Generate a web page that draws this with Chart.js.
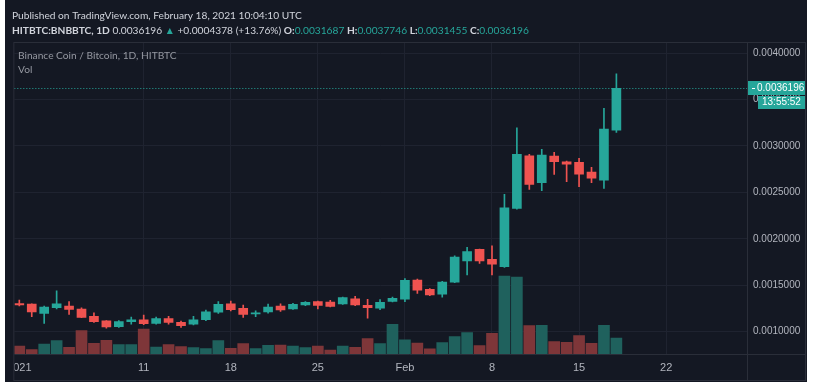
<!DOCTYPE html>
<html>
<head>
<meta charset="utf-8">
<script src="https://cdn.jsdelivr.net/npm/chart.js@4.4.0/dist/chart.umd.min.js"></script>
<style>
  html, body { margin: 0; padding: 0; background: #ffffff; }
</style>
</head>
<body>
<canvas id="myChart" width="814" height="389"></canvas>
<script>
//data: HITBTC BNB/BTC daily, Jan 1 - Feb 18 2021
const dates = [
  "2021-01-01", "2021-01-02", "2021-01-03", "2021-01-04", "2021-01-05", "2021-01-06", "2021-01-07",
  "2021-01-08", "2021-01-09", "2021-01-10", "2021-01-11", "2021-01-12", "2021-01-13", "2021-01-14",
  "2021-01-15", "2021-01-16", "2021-01-17", "2021-01-18", "2021-01-19", "2021-01-20", "2021-01-21",
  "2021-01-22", "2021-01-23", "2021-01-24", "2021-01-25", "2021-01-26", "2021-01-27", "2021-01-28",
  "2021-01-29", "2021-01-30", "2021-01-31", "2021-02-01", "2021-02-02", "2021-02-03", "2021-02-04",
  "2021-02-05", "2021-02-06", "2021-02-07", "2021-02-08", "2021-02-09", "2021-02-10", "2021-02-11",
  "2021-02-12", "2021-02-13", "2021-02-14", "2021-02-15", "2021-02-16", "2021-02-17", "2021-02-18"
];
const opens = [
  0.0013030, 0.0012980, 0.0011980, 0.0012590, 0.0012770, 0.0012440, 0.0011660,
  0.0011180, 0.0010540, 0.0011080, 0.0011290, 0.0010900, 0.0011400, 0.0011010,
  0.0010800, 0.0011290, 0.0012090, 0.0013010, 0.0012520, 0.0011910, 0.0012120,
  0.0012770, 0.0012440, 0.0012870, 0.0013230, 0.0013190, 0.0012980, 0.0013550,
  0.0012830, 0.0012520, 0.0013270, 0.0013490, 0.0015560, 0.0014560, 0.0014050,
  0.0015340, 0.0017620, 0.0018870, 0.0017790, 0.0017000, 0.0023280, 0.0028940,
  0.0026030, 0.0028900, 0.0028290, 0.0028230, 0.0027180, 0.0026320, 0.0031687
];
const highs = [
  0.0013410, 0.0013000, 0.0012770, 0.0014410, 0.0013230, 0.0012580, 0.0012040,
  0.0011200, 0.0011200, 0.0011580, 0.0011800, 0.0011580, 0.0011660, 0.0011150,
  0.0011660, 0.0012330, 0.0013230, 0.0013300, 0.0012870, 0.0012260, 0.0012980,
  0.0013010, 0.0013050, 0.0013230, 0.0013300, 0.0013380, 0.0013730, 0.0013810,
  0.0013480, 0.0013450, 0.0013730, 0.0015710, 0.0015670, 0.0014650, 0.0015410,
  0.0018170, 0.0019080, 0.0018900, 0.0019250, 0.0024780, 0.0031950, 0.0029090,
  0.0029630, 0.0029300, 0.0028370, 0.0028660, 0.0027690, 0.0034040, 0.0037746
];
const lows = [
  0.0012770, 0.0011620, 0.0010900, 0.0012440, 0.0011870, 0.0011500, 0.0011000,
  0.0010370, 0.0010450, 0.0010800, 0.0010770, 0.0010800, 0.0010800, 0.0010470,
  0.0010720, 0.0011200, 0.0011980, 0.0012230, 0.0011550, 0.0011620, 0.0012000,
  0.0012190, 0.0012390, 0.0012790, 0.0012440, 0.0012660, 0.0012950, 0.0012790,
  0.0011470, 0.0012370, 0.0013200, 0.0013230, 0.0014130, 0.0013870, 0.0013730,
  0.0015270, 0.0016100, 0.0017360, 0.0016100, 0.0016930, 0.0023200, 0.0025320,
  0.0025170, 0.0026930, 0.0026140, 0.0025600, 0.0026030, 0.0025430, 0.0031455
];
const closes = [
  0.0012870, 0.0012120, 0.0012660, 0.0013010, 0.0012410, 0.0011550, 0.0011080,
  0.0010510, 0.0011080, 0.0011290, 0.0010860, 0.0011400, 0.0011010, 0.0010650,
  0.0011290, 0.0012150, 0.0012950, 0.0012370, 0.0011870, 0.0012040, 0.0012660,
  0.0012340, 0.0012950, 0.0013160, 0.0012840, 0.0012730, 0.0013660, 0.0012870,
  0.0012590, 0.0013160, 0.0013590, 0.0015530, 0.0014480, 0.0013950, 0.0015340,
  0.0018030, 0.0018620, 0.0017610, 0.0017280, 0.0023340, 0.0029090, 0.0025860,
  0.0029010, 0.0028290, 0.0028040, 0.0026970, 0.0026540, 0.0031818, 0.0036196
];
const volumes = [
  8000, 4300, 10000, 13300, 6700, 23300, 10700,
  13700, 9300, 9300, 25000, 7000, 9300, 7300,
  6300, 5500, 13300, 5700, 10300, 5300, 8700,
  9000, 8000, 6300, 8000, 4000, 8000, 6700,
  15300, 10300, 29700, 14200, 10800, 5200, 11500,
  17300, 21300, 8500, 20700, 78000, 77000, 28300,
  28700, 12300, 11700, 18300, 10700, 28700, 16000
];
const xTickDays = [0, 10, 17, 24, 31, 38, 45, 52];
const xTickLabels = ["2021", "11", "18", "25", "Feb", "8", "15", "22"];
const yTickValues = [0.001, 0.0015, 0.002, 0.0025, 0.003, 0.0035, 0.004];
const lastTime = "13:55:52";

//colors
const upColor = "#26a69a";
const downColor = "#ef5350";
const upVolColor = "#1f615d";
const downVolColor = "#7e3639";
const bgColor = "#141823";
const gridColor = "#1f2330";
const lineColor = "#2a2e39";
const textColor = "#b2b5be";

const isUp = closes.map((c, i) => c >= opens[i]);
const wickData = dates.map((d, i) => ({ x: i, y: [lows[i], highs[i]] }));
const bodyData = dates.map((d, i) => ({ x: i, y: [opens[i], closes[i]] }));
const volData = dates.map((d, i) => ({ x: i, y: volumes[i] }));
const candleColors = isUp.map((u) => (u ? upColor : downColor));
const volColors = isUp.map((u) => (u ? upVolColor : downVolColor));

const FONT = '"Liberation Sans", Arial, sans-serif';
const HEAD_FONT = 'Lato, "Liberation Sans", sans-serif';

function drawRuns(ctx, runs, x, y) {
  runs.forEach((r) => {
    ctx.font = (r.bold ? "bold " : "") + "10.2px " + HEAD_FONT;
    ctx.fillStyle = r.color;
    ctx.fillText(r.text, x, y);
    x += ctx.measureText(r.text).width;
  });
}

const decoPlugin = {
  id: "deco",
  beforeDraw(chart) {
    const ctx = chart.ctx;
    ctx.save();
    ctx.fillStyle = "#ffffff";
    ctx.fillRect(0, 0, 814, 389);
    ctx.fillStyle = bgColor;
    ctx.fillRect(5, 0, 802, 382);
    ctx.restore();
  },
  beforeDatasetsDraw(chart) {
    const ctx = chart.ctx;
    const y = Math.round(chart.scales.y.getPixelForValue(closes[closes.length - 1])) + 0.5;
    ctx.save();
    ctx.strokeStyle = upColor;
    ctx.lineWidth = 1;
    ctx.setLineDash([1, 2]);
    ctx.beginPath();
    ctx.moveTo(chart.chartArea.left, y);
    ctx.lineTo(chart.chartArea.right, y);
    ctx.stroke();
    ctx.restore();
  },
  afterDraw(chart) {
    const ctx = chart.ctx;
    const area = chart.chartArea;
    ctx.save();

    //cover the cut part of the first date label, like the pane edge does
    ctx.fillStyle = "#ffffff";
    ctx.fillRect(0, area.bottom + 1, 5, 30);
    ctx.fillStyle = bgColor;
    ctx.fillRect(5, area.bottom + 1, area.left - 5, 25);

    //pane frame and separators
    ctx.strokeStyle = lineColor;
    ctx.lineWidth = 1;
    ctx.strokeRect(area.left - 0.5, area.top - 0.5, 805 - area.left + 1, 380 - area.top + 1);
    ctx.beginPath();
    ctx.moveTo(area.right + 0.5, area.top);
    ctx.lineTo(area.right + 0.5, 380);
    ctx.moveTo(area.left, area.bottom + 0.5);
    ctx.lineTo(805, area.bottom + 0.5);
    ctx.stroke();

    //header
    ctx.textBaseline = "alphabetic";
    ctx.textAlign = "left";
    drawRuns(ctx, [{ text: "Published on TradingView.com, February 18, 2021 10:04:10 UTC", color: "#d1d4dc" }], 12, 19);
    drawRuns(ctx, [
      { text: "HITBTC:BNBBTC, 1D", color: "#d1d4dc", bold: true },
      { text: " 0.0036196 ", color: "#d1d4dc" },
      { text: "\u25B2", color: upColor },
      { text: " +0.0004378 (+13.76%) ", color: "#d1d4dc" },
      { text: "O:", color: "#d1d4dc", bold: true },
      { text: "0.0031687 ", color: upColor },
      { text: "H:", color: "#d1d4dc", bold: true },
      { text: "0.0037746 ", color: upColor },
      { text: "L:", color: "#d1d4dc", bold: true },
      { text: "0.0031455 ", color: upColor },
      { text: "C:", color: "#d1d4dc", bold: true },
      { text: "0.0036196", color: upColor },
    ], 12, 34);

    //legend in pane
    ctx.font = "10.2px " + HEAD_FONT;
    ctx.fillStyle = "#9598a1";
    ctx.fillText("Binance Coin / Bitcoin, 1D, HITBTC", 18, 59);
    ctx.fillText("Vol", 18, 73);

    //last price and countdown labels
    const yLast = Math.round(chart.scales.y.getPixelForValue(closes[closes.length - 1]));
    ctx.fillStyle = upColor;
    ctx.fillRect(area.right + 1, yLast - 7, 805 - area.right - 1, 14);
    ctx.fillRect(area.right + 11, yLast + 8, 805 - area.right - 11, 13);
    ctx.fillStyle = "#ffffff";
    ctx.fillRect(area.right + 5, yLast, 3, 1);
    ctx.font = "10px " + FONT;
    ctx.textBaseline = "middle";
    ctx.fillText(closes[closes.length - 1].toFixed(7), area.right + 10, yLast + 0.5);
    ctx.fillText(lastTime, area.right + 15, yLast + 14.5);
    ctx.restore();
  },
};

const config = {
  data: {
    datasets: [
      {
        type: "bar",
        label: "Body",
        data: bodyData,
        backgroundColor: candleColors,
        barThickness: 9,
        minBarLength: 1,
        grouped: false,
        order: 0,
      },
      {
        type: "bar",
        label: "Wick",
        data: wickData,
        backgroundColor: candleColors,
        barThickness: 1,
        grouped: false,
        order: 1,
      },
      {
        type: "bar",
        label: "Vol",
        data: volData,
        yAxisID: "vol",
        backgroundColor: volColors,
        barThickness: 11,
        grouped: false,
        order: 2,
      },
    ],
  },
  options: {
    responsive: false,
    animation: false,
    events: [],
    layout: {
      padding: { left: 11, top: 43, right: 9, bottom: 9 },
    },
    plugins: {
      legend: { display: false },
      tooltip: { enabled: false },
    },
    scales: {
      x: {
        type: "linear",
        min: -0.4,
        max: 58.5,
        offset: false,
        afterBuildTicks: (axis) => {
          axis.ticks = xTickDays.map((v) => ({ value: v }));
        },
        afterFit: (axis) => {
          axis.height = 26;
        },
        grid: {
          offset: false,
          drawTicks: false,
          color: (c) => (c.index === 0 ? "rgba(0,0,0,0)" : gridColor),
        },
        border: { display: false },
        ticks: {
          autoSkip: false,
          maxRotation: 0,
          padding: 7,
          color: textColor,
          font: { family: FONT, size: 11 },
          callback: (value, index) => xTickLabels[index],
        },
      },
      y: {
        type: "linear",
        position: "right",
        min: 0.00076,
        max: 0.0041077,
        afterBuildTicks: (axis) => {
          axis.ticks = yTickValues.map((v) => ({ value: v }));
        },
        afterFit: (axis) => {
          axis.width = 58;
        },
        grid: { drawTicks: false, color: gridColor },
        border: { display: false },
        ticks: {
          padding: 6,
          color: textColor,
          font: { family: FONT, size: 10 },
          callback: (value) => value.toFixed(7),
        },
      },
      vol: {
        type: "linear",
        display: false,
        min: 0,
        max: 311000,
      },
    },
  },
  plugins: [decoPlugin],
};

//chart
const myChart = new Chart(document.getElementById("myChart"), config);
</script>
</body>
</html>
